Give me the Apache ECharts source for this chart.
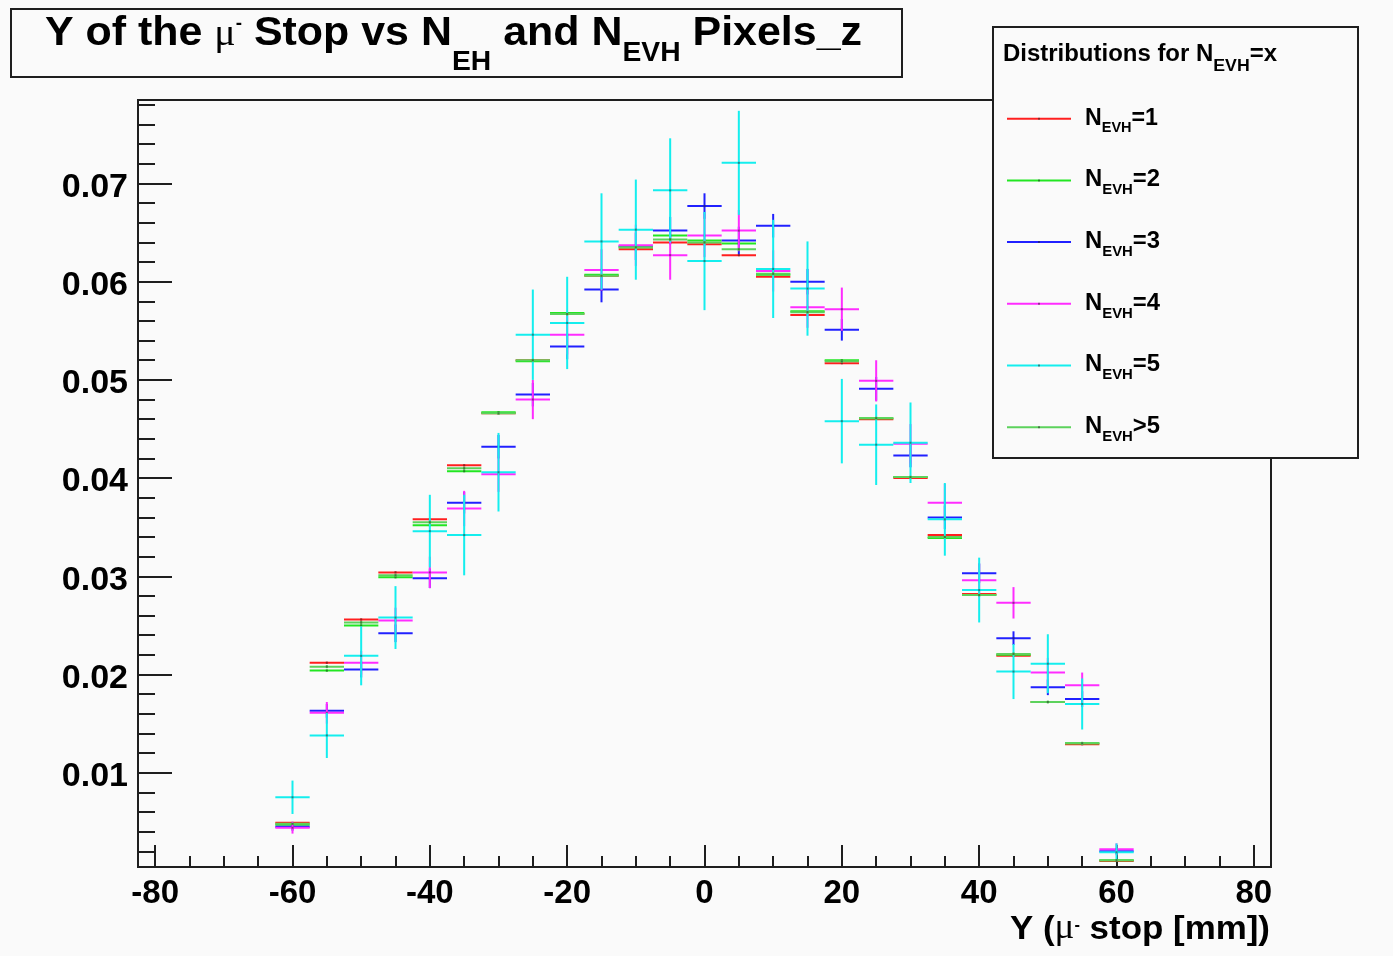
<!DOCTYPE html>
<html>
<head>
<meta charset="utf-8">
<script src="https://cdn.jsdelivr.net/npm/echarts@6/dist/echarts.min.js"></script>
<style>
  html, body { margin: 0; padding: 0; background: #fafafa; }
  #chart { width: 1393px; height: 956px; }
</style>
</head>
<body>
<div id="chart"></div>
<script>
// Bin centres of the Y (mu- stop) histogram, 5 mm bins
const binCenters = [-60, -55, -50, -45, -40, -35, -30, -25, -20, -15, -10, -5, 0, 5, 10, 15, 20, 25, 30, 35, 40, 45, 50, 55, 60];
const binWidth = 5;

// Normalised bin contents for each N_EVH class
const nevh1 = [0.0049, 0.0212, 0.0256, 0.0304, 0.0358, 0.0413, 0.0466, 0.0520, 0.0567, 0.0606, 0.0633, 0.0640, 0.0638, 0.0627, 0.0605, 0.0566, 0.0517, 0.0460, 0.0400, 0.0342, 0.0282, 0.0219, 0.0172, 0.0129, 0.0010];
const nevh2 = [0.0047, 0.0204, 0.0250, 0.0299, 0.0352, 0.0407, 0.0467, 0.0519, 0.0568, 0.0607, 0.0635, 0.0647, 0.0642, 0.0639, 0.0607, 0.0570, 0.0520, 0.0461, 0.0401, 0.0339, 0.0281, 0.0220, 0.0172, 0.0130, 0.0011];
const nevh3 = [0.0045, 0.0163, 0.0205, 0.0242, 0.0298, 0.0375, 0.0432, 0.0485, 0.0534, 0.0592, 0.0636, 0.0652, 0.0677, 0.0642, 0.0657, 0.0600, 0.0551, 0.0491, 0.0423, 0.0360, 0.0303, 0.0237, 0.0187, 0.0175, 0.0020];
const nevh4 = [0.0044, 0.0161, 0.0212, 0.0255, 0.0304, 0.0369, 0.0404, 0.0480, 0.0546, 0.0612, 0.0637, 0.0627, 0.0647, 0.0652, 0.0611, 0.0574, 0.0572, 0.0499, 0.0435, 0.0375, 0.0296, 0.0273, 0.0202, 0.0189, 0.0022];
const nevh5 = [0.0075, 0.0138, 0.0219, 0.0258, 0.0346, 0.0342, 0.0406, 0.0546, 0.0558, 0.0641, 0.0653, 0.0693, 0.0621, 0.0721, 0.0613, 0.0593, 0.0458, 0.0434, 0.0436, 0.0358, 0.0286, 0.0203, 0.0211, 0.0170, 0.0019];
const nevhGt5 = [0.0048, 0.0208, 0.0253, 0.0301, 0.0355, 0.0410, 0.0466, 0.0520, 0.0567, 0.0606, 0.0635, 0.0643, 0.0640, 0.0633, 0.0608, 0.0569, 0.0519, 0.0461, 0.0401, 0.0340, 0.0281, 0.0221, 0.0172, 0.0130, 0.0011];

// Statistical errors on each bin
const nevh1Err = [0.00005, 0.0001, 0.0001, 0.0001, 0.0001, 0.0001, 0.0001, 0.0001, 0.0001, 0.0001, 0.0001, 0.0001, 0.0001, 0.0001, 0.0001, 0.0001, 0.0001, 0.0001, 0.0001, 0.0001, 0.0001, 0.0001, 0.0001, 0.0001, 0.00005];
const nevh2Err = [0.00005, 0.0001, 0.0001, 0.0001, 0.0001, 0.0001, 0.0001, 0.0001, 0.0001, 0.0001, 0.0001, 0.0001, 0.0001, 0.0001, 0.0001, 0.0001, 0.0001, 0.0001, 0.0001, 0.0001, 0.0001, 0.0001, 0.0001, 0.0001, 0.00005];
const nevh3Err = [0.0004, 0.0007, 0.0008, 0.0009, 0.0010, 0.0011, 0.0012, 0.0012, 0.0013, 0.0013, 0.0014, 0.0014, 0.0013, 0.0014, 0.0012, 0.0013, 0.0011, 0.0012, 0.0012, 0.0012, 0.0010, 0.0007, 0.0008, 0.0008, 0.0003];
const nevh4Err = [0.0006, 0.0011, 0.0012, 0.0013, 0.0016, 0.0018, 0.0018, 0.0020, 0.0020, 0.0021, 0.0021, 0.0025, 0.0022, 0.0021, 0.0021, 0.0021, 0.0022, 0.0021, 0.0020, 0.0019, 0.0017, 0.0016, 0.0015, 0.0013, 0.0006];
const nevh5Err = [0.0017, 0.0023, 0.0030, 0.0032, 0.0037, 0.0041, 0.0040, 0.0046, 0.0047, 0.0049, 0.0051, 0.0053, 0.0050, 0.0053, 0.0050, 0.0048, 0.0043, 0.0041, 0.0041, 0.0037, 0.0033, 0.0028, 0.0030, 0.0026, 0.0009];
const nevhGt5Err = [0.00005, 0.00015, 0.00015, 0.00015, 0.00015, 0.00015, 0.00015, 0.00015, 0.00015, 0.00015, 0.00015, 0.00015, 0.00015, 0.00015, 0.00015, 0.00015, 0.00015, 0.00015, 0.00015, 0.00015, 0.00015, 0.00015, 0.00015, 0.00015, 0.00005];

// Axis labels
const xTickLabels = ['-80', '-60', '-40', '-20', '0', '20', '40', '60', '80'];
const yTickLabels = ['0.01', '0.02', '0.03', '0.04', '0.05', '0.06', '0.07'];

const legendLabels = ['=1', '=2', '=3', '=4', '=5', '>5'];

// ---- styling ----
const BG = '#fafafa';
const INK = '#1e1e1e';
const SANS = "'Liberation Sans', Arial, Helvetica, sans-serif";
const SERIF = "'Liberation Serif', 'Times New Roman', serif";
const MID = 0.3465; // em-box middle above the baseline
const COLORS = ['#ff1f1f', '#22e622', '#2020ff', '#ff2cff', '#14eeee', '#5cd25c'];

const seriesDefs = [
  { name: 'N_EVH=1', values: nevh1, errors: nevh1Err },
  { name: 'N_EVH=2', values: nevh2, errors: nevh2Err },
  { name: 'N_EVH=3', values: nevh3, errors: nevh3Err },
  { name: 'N_EVH=4', values: nevh4, errors: nevh4Err },
  { name: 'N_EVH=5', values: nevh5, errors: nevh5Err },
  { name: 'N_EVH>5', values: nevhGt5, errors: nevhGt5Err }
];

// text measurement for composed labels with sub/superscripts
const measureCtx = document.createElement('canvas').getContext('2d');
function cssFont(s) {
  return (s.weight || 'bold') + ' ' + s.size + 'px ' + (s.family || SANS);
}
function textRun(segs, left, right) {
  const widths = segs.map(s => { measureCtx.font = cssFont(s); return measureCtx.measureText(s.t).width; });
  const total = widths.reduce((a, b) => a + b, 0);
  const k = right != null ? (right - left) / total : 1;
  let acc = 0;
  const children = segs.map((s, i) => {
    const el = {
      type: 'text',
      z: 120,
      x: acc,
      y: s.mid != null ? s.mid : s.base - MID * s.size,
      style: {
        text: s.t,
        fontSize: s.size,
        fontWeight: s.weight || 'bold',
        fontFamily: s.family || SANS,
        fill: '#000',
        textAlign: 'left',
        verticalAlign: 'middle',
        textVerticalAlign: 'middle'
      }
    };
    acc += widths[i];
    return el;
  });
  return { type: 'group', x: left, y: 0, scaleX: k, z: 120, children: children };
}

function renderBin(color) {
  return function (params, api) {
    const x = api.value(0), y = api.value(1), e = api.value(2);
    const pL = api.coord([x - binWidth / 2, y]);
    const pR = api.coord([x + binWidth / 2, y]);
    const pT = api.coord([x, y + e]);
    const pB = api.coord([x, y - e]);
    const c = api.coord([x, y]);
    return {
      type: 'group',
      children: [
        { type: 'line', shape: { x1: pL[0], y1: pL[1], x2: pR[0], y2: pR[1] }, style: { stroke: color, lineWidth: 2 } },
        { type: 'line', shape: { x1: pT[0], y1: pT[1], x2: pB[0], y2: pB[1] }, style: { stroke: color, lineWidth: 2 } },
        { type: 'rect', shape: { x: c[0] - 1, y: c[1] - 1, width: 2, height: 2 }, style: { fill: '#222', opacity: 0.5 } }
      ]
    };
  };
}

const series = seriesDefs.map((d, k) => ({
  type: 'custom',
  name: d.name,
  coordinateSystem: 'cartesian2d',
  clip: true,
  silent: true,
  z: 2 + k * 0.01,
  encode: { x: 0, y: 1 },
  data: binCenters.map((x, i) => [x, d.values[i], d.errors[i]]),
  renderItem: renderBin(COLORS[k])
}));

// ---- decorations: title box, legend box, axis title ----
const graphics = [];

// title pave
graphics.push({ type: 'rect', z: 90, shape: { x: 11, y: 9, width: 891, height: 68 },
  style: { fill: BG, stroke: INK, lineWidth: 2 } });
graphics.push(textRun([
  { t: 'Y of the ', size: 41, base: 48 },
  { t: '\u03bc', size: 38, base: 48, weight: 'normal', family: SERIF },
  { t: '-', size: 18, mid: 24.5 },
  { t: ' Stop vs N', size: 41, base: 48 },
  { t: 'EH', size: 27, base: 72 },
  { t: ' and N', size: 41, base: 48 },
  { t: 'EVH', size: 27, base: 63 },
  { t: ' Pixels_z', size: 41, base: 48 }
], 45, 862));

// legend pave
graphics.push({ type: 'rect', z: 90, shape: { x: 993, y: 27, width: 365, height: 431 },
  style: { fill: BG, stroke: INK, lineWidth: 2 } });
graphics.push(textRun([
  { t: 'Distributions for N', size: 23, base: 62.7 },
  { t: 'EVH', size: 17, base: 72.3 },
  { t: '=x', size: 23, base: 62.7 }
], 1003, 1277));

const legendY0 = 118.7, legendStep = 61.7;
legendLabels.forEach((lab, i) => {
  const y = legendY0 + i * legendStep;
  graphics.push({ type: 'line', z: 110, shape: { x1: 1007, y1: y, x2: 1071, y2: y },
    style: { stroke: COLORS[i], lineWidth: 2 } });
  graphics.push({ type: 'rect', z: 111, shape: { x: 1038, y: y - 1, width: 2, height: 2 },
    style: { fill: '#222', opacity: 0.5 } });
  const base = y + 7.5;
  graphics.push(textRun([
    { t: 'N', size: 24, base: base },
    { t: 'EVH', size: 15, base: base + 7.3 },
    { t: lab, size: 24, base: base }
  ], 1085, i === 0 ? 1158 : 1160));
});

// x-axis title
graphics.push(textRun([
  { t: 'Y (', size: 34, base: 941 },
  { t: '\u03bc', size: 36, base: 941, weight: 'normal', family: SERIF },
  { t: '-', size: 16, mid: 926 },
  { t: ' stop [mm])', size: 34, base: 941 }
], 1010, 1270));

const chart = echarts.init(document.getElementById('chart'), null, { renderer: 'canvas' });

chart.setOption({
  backgroundColor: BG,
  animation: false,
  grid: {
    left: 138, right: 122, top: 100, bottom: 89,
    show: true, borderColor: INK, borderWidth: 2, backgroundColor: 'transparent',
    containLabel: false, outerBoundsMode: 'none'
  },
  xAxis: {
    type: 'value',
    min: -82.5, max: 82.5, splitNumber: 8,
    axisLine: { show: true, onZero: false, lineStyle: { color: INK, width: 2 } },
    axisTick: { show: true, inside: true, length: 22, lineStyle: { color: INK, width: 2 } },
    minorTick: { show: true, splitNumber: 4, length: 11, lineStyle: { color: INK, width: 2 } },
    splitLine: { show: false },
    axisLabel: {
      margin: 10, color: '#000', fontSize: 33, fontWeight: 'bold', fontFamily: SANS,
      formatter: v => (xTickLabels.indexOf(String(v)) >= 0 ? String(v) : '')
    }
  },
  yAxis: {
    type: 'value',
    min: 0.0004, max: 0.0785, splitNumber: 8,
    axisLine: { show: true, onZero: false, lineStyle: { color: INK, width: 2 } },
    axisTick: { show: true, inside: true, length: 34, lineStyle: { color: INK, width: 2 } },
    minorTick: { show: true, splitNumber: 5, length: 17, lineStyle: { color: INK, width: 2 } },
    splitLine: { show: false },
    axisLabel: {
      margin: 10, color: '#000', fontSize: 34, fontWeight: 'bold', fontFamily: SANS,
      verticalAlign: 'top', lineHeight: 8,
      formatter: v => {
        const s = v.toFixed(2);
        return (Math.abs(v - parseFloat(s)) < 1e-9 && yTickLabels.indexOf(s) >= 0) ? s : '';
      }
    }
  },
  series: series,
  graphic: { elements: graphics }
});
</script>
</body>
</html>
